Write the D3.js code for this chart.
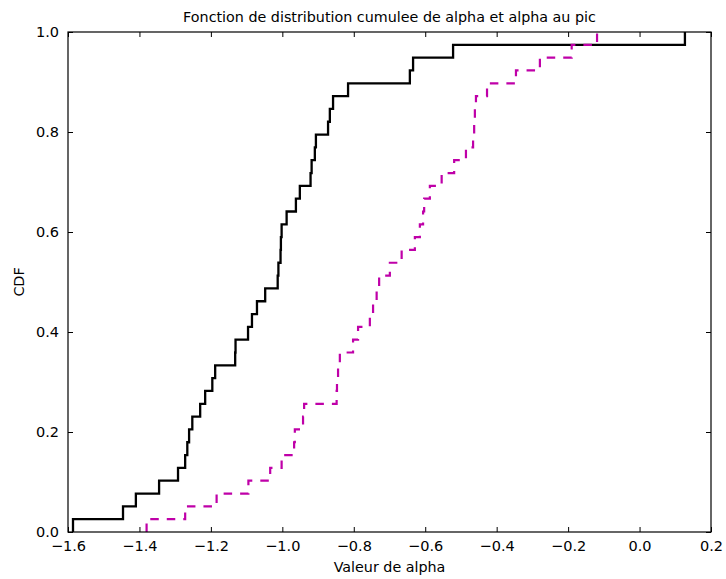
<!DOCTYPE html>
<html>
<head>
<meta charset="utf-8">
<script src="https://cdn.jsdelivr.net/npm/d3@7"></script>
<style>
  html, body { margin: 0; padding: 0; background: #ffffff; }
  svg { display: block; }
  text { font-family: "DejaVu Sans", sans-serif; fill: #000; }
</style>
</head>
<body>
<svg id="chart" width="726" height="579"></svg>
<script>
// ---- Data (sorted sample values) ----
const alphaValues = [
  -1.586, -1.446, -1.410, -1.345, -1.292, -1.272, -1.266, -1.261, -1.252, -1.230,
  -1.216, -1.196, -1.188, -1.132, -1.131, -1.096, -1.085, -1.071, -1.048, -1.013,
  -1.011, -1.005, -1.004, -1.002, -0.988, -0.962, -0.951, -0.921, -0.918, -0.909,
  -0.906, -0.872, -0.867, -0.858, -0.816, -0.643, -0.634, -0.522, 0.127
];
const alphaPeakValues = [
  -1.380, -1.272, -1.184, -1.095, -1.034, -1.002, -0.967, -0.965, -0.942, -0.939,
  -0.848, -0.847, -0.844, -0.839, -0.802, -0.788, -0.755, -0.746, -0.736, -0.729,
  -0.699, -0.666, -0.629, -0.615, -0.606, -0.603, -0.587, -0.554, -0.519, -0.486,
  -0.466, -0.463, -0.461, -0.458, -0.427, -0.346, -0.279, -0.190, -0.119
];
const xTicks = [-1.6, -1.4, -1.2, -1.0, -0.8, -0.6, -0.4, -0.2, 0.0, 0.2];
const yTicks = [0.0, 0.2, 0.4, 0.6, 0.8, 1.0];
const titleText = "Fonction de distribution cumulee de alpha et alpha au pic";
const xLabelText = "Valeur de alpha";
const yLabelText = "CDF";

// ---- Layout ----
const margin = { left: 68, right: 15, top: 32, bottom: 47 };
const W = 726, H = 579;
const svg = d3.select("#chart");

const x = d3.scaleLinear().domain([-1.6, 0.2]).range([margin.left, W - margin.right]);
const y = d3.scaleLinear().domain([0, 1]).range([H - margin.bottom, margin.top]);

function cdfPoints(vals) {
  const s = vals.slice().sort((a, b) => a - b);
  const n = s.length;
  const pts = [[s[0], 0]];
  s.forEach((v, i) => pts.push([v, (i + 1) / n]));
  return pts;
}

const line = d3.line()
  .x(d => x(d[0]))
  .y(d => y(d[1]))
  .curve(d3.curveStepAfter);

const plot = svg.append("g");

plot.append("path")
  .datum(cdfPoints(alphaValues))
  .attr("d", line)
  .attr("fill", "none")
  .attr("stroke", "#000000")
  .attr("stroke-width", 2.3);

plot.append("path")
  .datum(cdfPoints(alphaPeakValues))
  .attr("d", line)
  .attr("fill", "none")
  .attr("stroke", "#bf00a8")
  .attr("stroke-width", 2.2)
  .attr("stroke-dasharray", "8.5,8");

// ---- Axes (inward ticks on all four sides) ----
const fmt = d3.format(".1f");
const minusFmt = v => fmt(v).replace("-", "\u2212");

const xAxisB = d3.axisBottom(x).tickValues(xTicks).tickSize(-5).tickPadding(9).tickFormat(minusFmt);
const xAxisT = d3.axisTop(x).tickValues(xTicks).tickSize(-5).tickFormat("");
const yAxisL = d3.axisLeft(y).tickValues(yTicks).tickSize(-5).tickPadding(9).tickFormat(fmt);
const yAxisR = d3.axisRight(y).tickValues(yTicks).tickSize(-5).tickFormat("");

function style(g) {
  g.select(".domain").remove();
  g.selectAll(".tick line").attr("stroke", "#000").attr("stroke-width", 1);
  g.selectAll(".tick text").style("font-family", "'DejaVu Sans', sans-serif").style("font-size", "14.5px").attr("fill", "#000");
}

svg.append("g").attr("transform", `translate(0,${H - margin.bottom})`).call(xAxisB).call(style);
svg.append("g").attr("transform", `translate(0,${margin.top})`).call(xAxisT).call(style);
svg.append("g").attr("transform", `translate(${margin.left},0)`).call(yAxisL).call(style);
svg.append("g").attr("transform", `translate(${W - margin.right},0)`).call(yAxisR).call(style);

// frame
svg.append("rect")
  .attr("x", margin.left).attr("y", margin.top)
  .attr("width", W - margin.left - margin.right)
  .attr("height", H - margin.top - margin.bottom)
  .attr("fill", "none").attr("stroke", "#000").attr("stroke-width", 1.2);

// ---- Text ----
const cx = (margin.left + W - margin.right) / 2;
svg.append("text").attr("x", cx).attr("y", 22).attr("text-anchor", "middle")
  .style("font-size", "14.3px").text(titleText);
svg.append("text").attr("x", cx).attr("y", 572).attr("text-anchor", "middle")
  .style("font-size", "14.3px").text(xLabelText);
svg.append("text")
  .attr("transform", `translate(24,${(margin.top + H - margin.bottom) / 2}) rotate(-90)`)
  .attr("text-anchor", "middle").style("font-size", "14.3px").text(yLabelText);
</script>
</body>
</html>
